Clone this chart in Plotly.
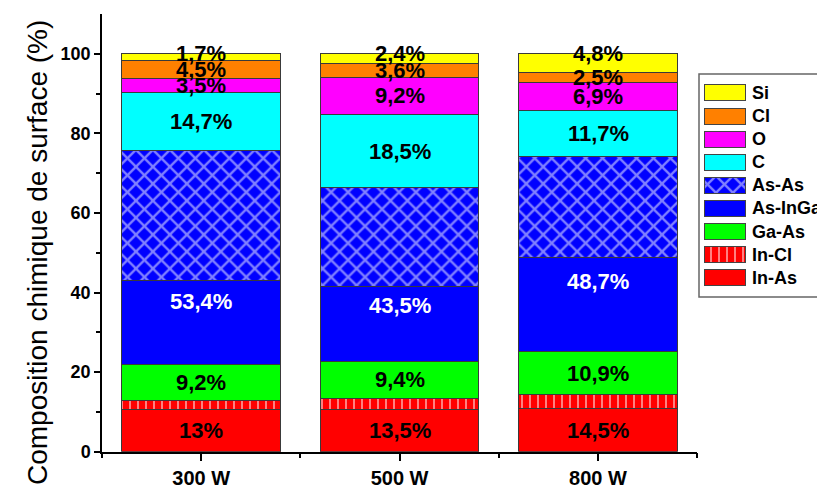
import numpy as np
import plotly.graph_objects as go

# ---------------- data ----------------
categories = ["300 W", "500 W", "800 W"]

series_names = ["In-As", "In-Cl", "Ga-As", "As-InGa", "As-As", "C", "O", "Cl", "Si"]
in_as   = [10.5, 10.5, 10.9]
in_cl   = [2.3, 2.9, 3.4]
ga_as   = [9.2, 9.3, 10.9]
as_inga = [21.0, 18.8, 23.6]
as_as   = [32.6, 24.8, 25.3]
c_vals  = [14.7, 18.5, 11.7]
o_vals  = [3.5, 9.2, 6.9]
cl_vals = [4.5, 3.6, 2.5]
si_vals = [1.7, 2.4, 4.8]

lbl_in_as   = ["13%", "13,5%", "14,5%"]
lbl_ga_as   = ["9,2%", "9,4%", "10,9%"]
lbl_as_inga = ["53,4%", "43,5%", "48,7%"]
lbl_c       = ["14,7%", "18,5%", "11,7%"]
lbl_o       = ["3,5%", "9,2%", "6,9%"]
lbl_cl      = ["4,5%", "3,6%", "2,5%"]
lbl_si      = ["1,7%", "2,4%", "4,8%"]

y_tick_vals = [0, 20, 40, 60, 80, 100]
y_title = "Composition chimique de surface (%)"

# ---------------- styles ----------------
W, H = 817, 492
FONT = "Liberation Sans, Arial, sans-serif"
values = [in_as, in_cl, ga_as, as_inga, as_as, c_vals, o_vals, cl_vals, si_vals]
colors = ["#FF0000", "#FF0000", "#00FF00", "#0000FF", "#0000FF",
          "#00FFFF", "#FF00FF", "#FF8000", "#FFFF00"]
patterns = [None, dict(shape="|", fgcolor="white", bgcolor="#FF0000", size=8, solidity=0.25),
            None, None,
            dict(shape="x", fgcolor="white", bgcolor="#0000FF", size=12, solidity=0.35),
            None, None, None, None]
labels = [lbl_in_as, None, lbl_ga_as, lbl_as_inga, None, lbl_c, lbl_o, lbl_cl, lbl_si]
label_colors = ["black", None, "black", "white", None, "black", "black", "black", "black"]

xpos = list(range(len(categories)))
fig = go.Figure()

# main stacked bars
for name, vals, col, pat in zip(series_names, values, colors, patterns):
    marker = dict(color=col, line=dict(color="#3a3a3a", width=1))
    if pat:
        marker["pattern"] = pat
    fig.add_trace(go.Bar(x=xpos, y=vals, name=name, marker=marker, width=0.8,
                         showlegend=False, xaxis="x", yaxis="y"))

# value labels
arr = np.array(values)
tops = np.cumsum(arr, axis=0)
bottoms = tops - arr
annotations = []
for i, (lbls, lc) in enumerate(zip(labels, label_colors)):
    if lbls is None:
        continue
    for j, txt in enumerate(lbls):
        if series_names[i] == "Si":
            yv = tops[i, j]
        elif series_names[i] == "As-InGa":
            yv = tops[i, j] - 0.25 * arr[i, j]
        else:
            yv = (tops[i, j] + bottoms[i, j]) / 2
        annotations.append(dict(x=xpos[j], y=yv, xref="x", yref="y", text=txt,
                                showarrow=False, xanchor="center", yanchor="middle",
                                font=dict(family=FONT, size=22, color=lc, weight="bold")))

# legend built as a small bar chart on its own axes
leg_x0_px, leg_top_px, leg_bot_px = 699, 74, 297
row_px = 23.1
first_row_from_bottom = (leg_bot_px - 277.7) / row_px
span = (leg_bot_px - leg_top_px) / row_px
for k, (name, col, pat) in enumerate(zip(series_names, colors, patterns)):
    marker = dict(color=col, line=dict(color="#444444", width=1))
    if pat:
        marker["pattern"] = pat
    fig.add_trace(go.Bar(y=[k], x=[41], base=[5], orientation="h", width=16 / row_px,
                         marker=marker, showlegend=False, xaxis="x2", yaxis="y2",
                         hoverinfo="skip"))
    annotations.append(dict(x=51, y=k, xref="x2", yref="y2", text=name, showarrow=False,
                            xanchor="left", yanchor="middle",
                            font=dict(family=FONT, size=18, color="black", weight="bold")))

# y-axis title
annotations.append(dict(x=37 / W, y=1 - 253 / H, xref="paper", yref="paper", text=y_title,
                        textangle=-90, showarrow=False, xanchor="center", yanchor="middle",
                        font=dict(family=FONT, size=28, color="black")))

x_left_px, x_right_px = 102, 697.2
y_bot_px, y_top_px = 451.7, 14

fig.update_layout(
    width=W, height=H,
    margin=dict(l=0, r=0, t=0, b=0),
    paper_bgcolor="white", plot_bgcolor="white",
    barmode="stack",
    bargap=0.2,
    showlegend=False,
    font=dict(family=FONT, color="black"),
    xaxis=dict(domain=[x_left_px / W, x_right_px / W], range=[-0.5, 2.5],
               tickmode="array", tickvals=xpos, ticktext=categories,
               ticks="outside", ticklen=8, tickwidth=1.5, tickcolor="black",
               showline=True, linecolor="black", linewidth=1.5, showgrid=False,
               zeroline=False, automargin=False,
               tickfont=dict(family=FONT, size=20, color="black", weight="bold"),
               minor=dict(tickmode="array", tickvals=[-0.5, 0.5, 1.5, 2.5], ticks="outside",
                          ticklen=5, tickwidth=1.5, tickcolor="black", showgrid=False),
               anchor="y", fixedrange=True),
    yaxis=dict(domain=[1 - y_bot_px / H, 1 - y_top_px / H], range=[0, 110],
               tickmode="array", tickvals=y_tick_vals,
               ticks="outside", ticklen=6, tickwidth=1.5, tickcolor="black",
               showline=True, linecolor="black", linewidth=1.5, showgrid=False,
               zeroline=False, automargin=False,
               tickfont=dict(family=FONT, size=18, color="black", weight="bold"),
               minor=dict(tickmode="array", tickvals=[10, 30, 50, 70, 90], ticks="outside",
                          ticklen=4, tickwidth=1.5, tickcolor="black", showgrid=False),
               anchor="x", fixedrange=True),
    xaxis2=dict(domain=[leg_x0_px / W, 1.0], range=[0, W - leg_x0_px], visible=False,
                anchor="y2", fixedrange=True),
    yaxis2=dict(domain=[1 - leg_bot_px / H, 1 - leg_top_px / H],
                range=[-first_row_from_bottom, span - first_row_from_bottom],
                visible=False, anchor="x2", fixedrange=True),
    annotations=annotations,
    shapes=[dict(type="rect", xref="paper", yref="paper",
                 x0=leg_x0_px / W, x1=1.02, y0=1 - leg_bot_px / H, y1=1 - leg_top_px / H,
                 line=dict(color="#666666", width=1.5), fillcolor="rgba(0,0,0,0)",
                 layer="below")],
)

fig.write_html("out.html", config={"displayModeBar": False},
               post_script="document.body.style.margin='0';")
